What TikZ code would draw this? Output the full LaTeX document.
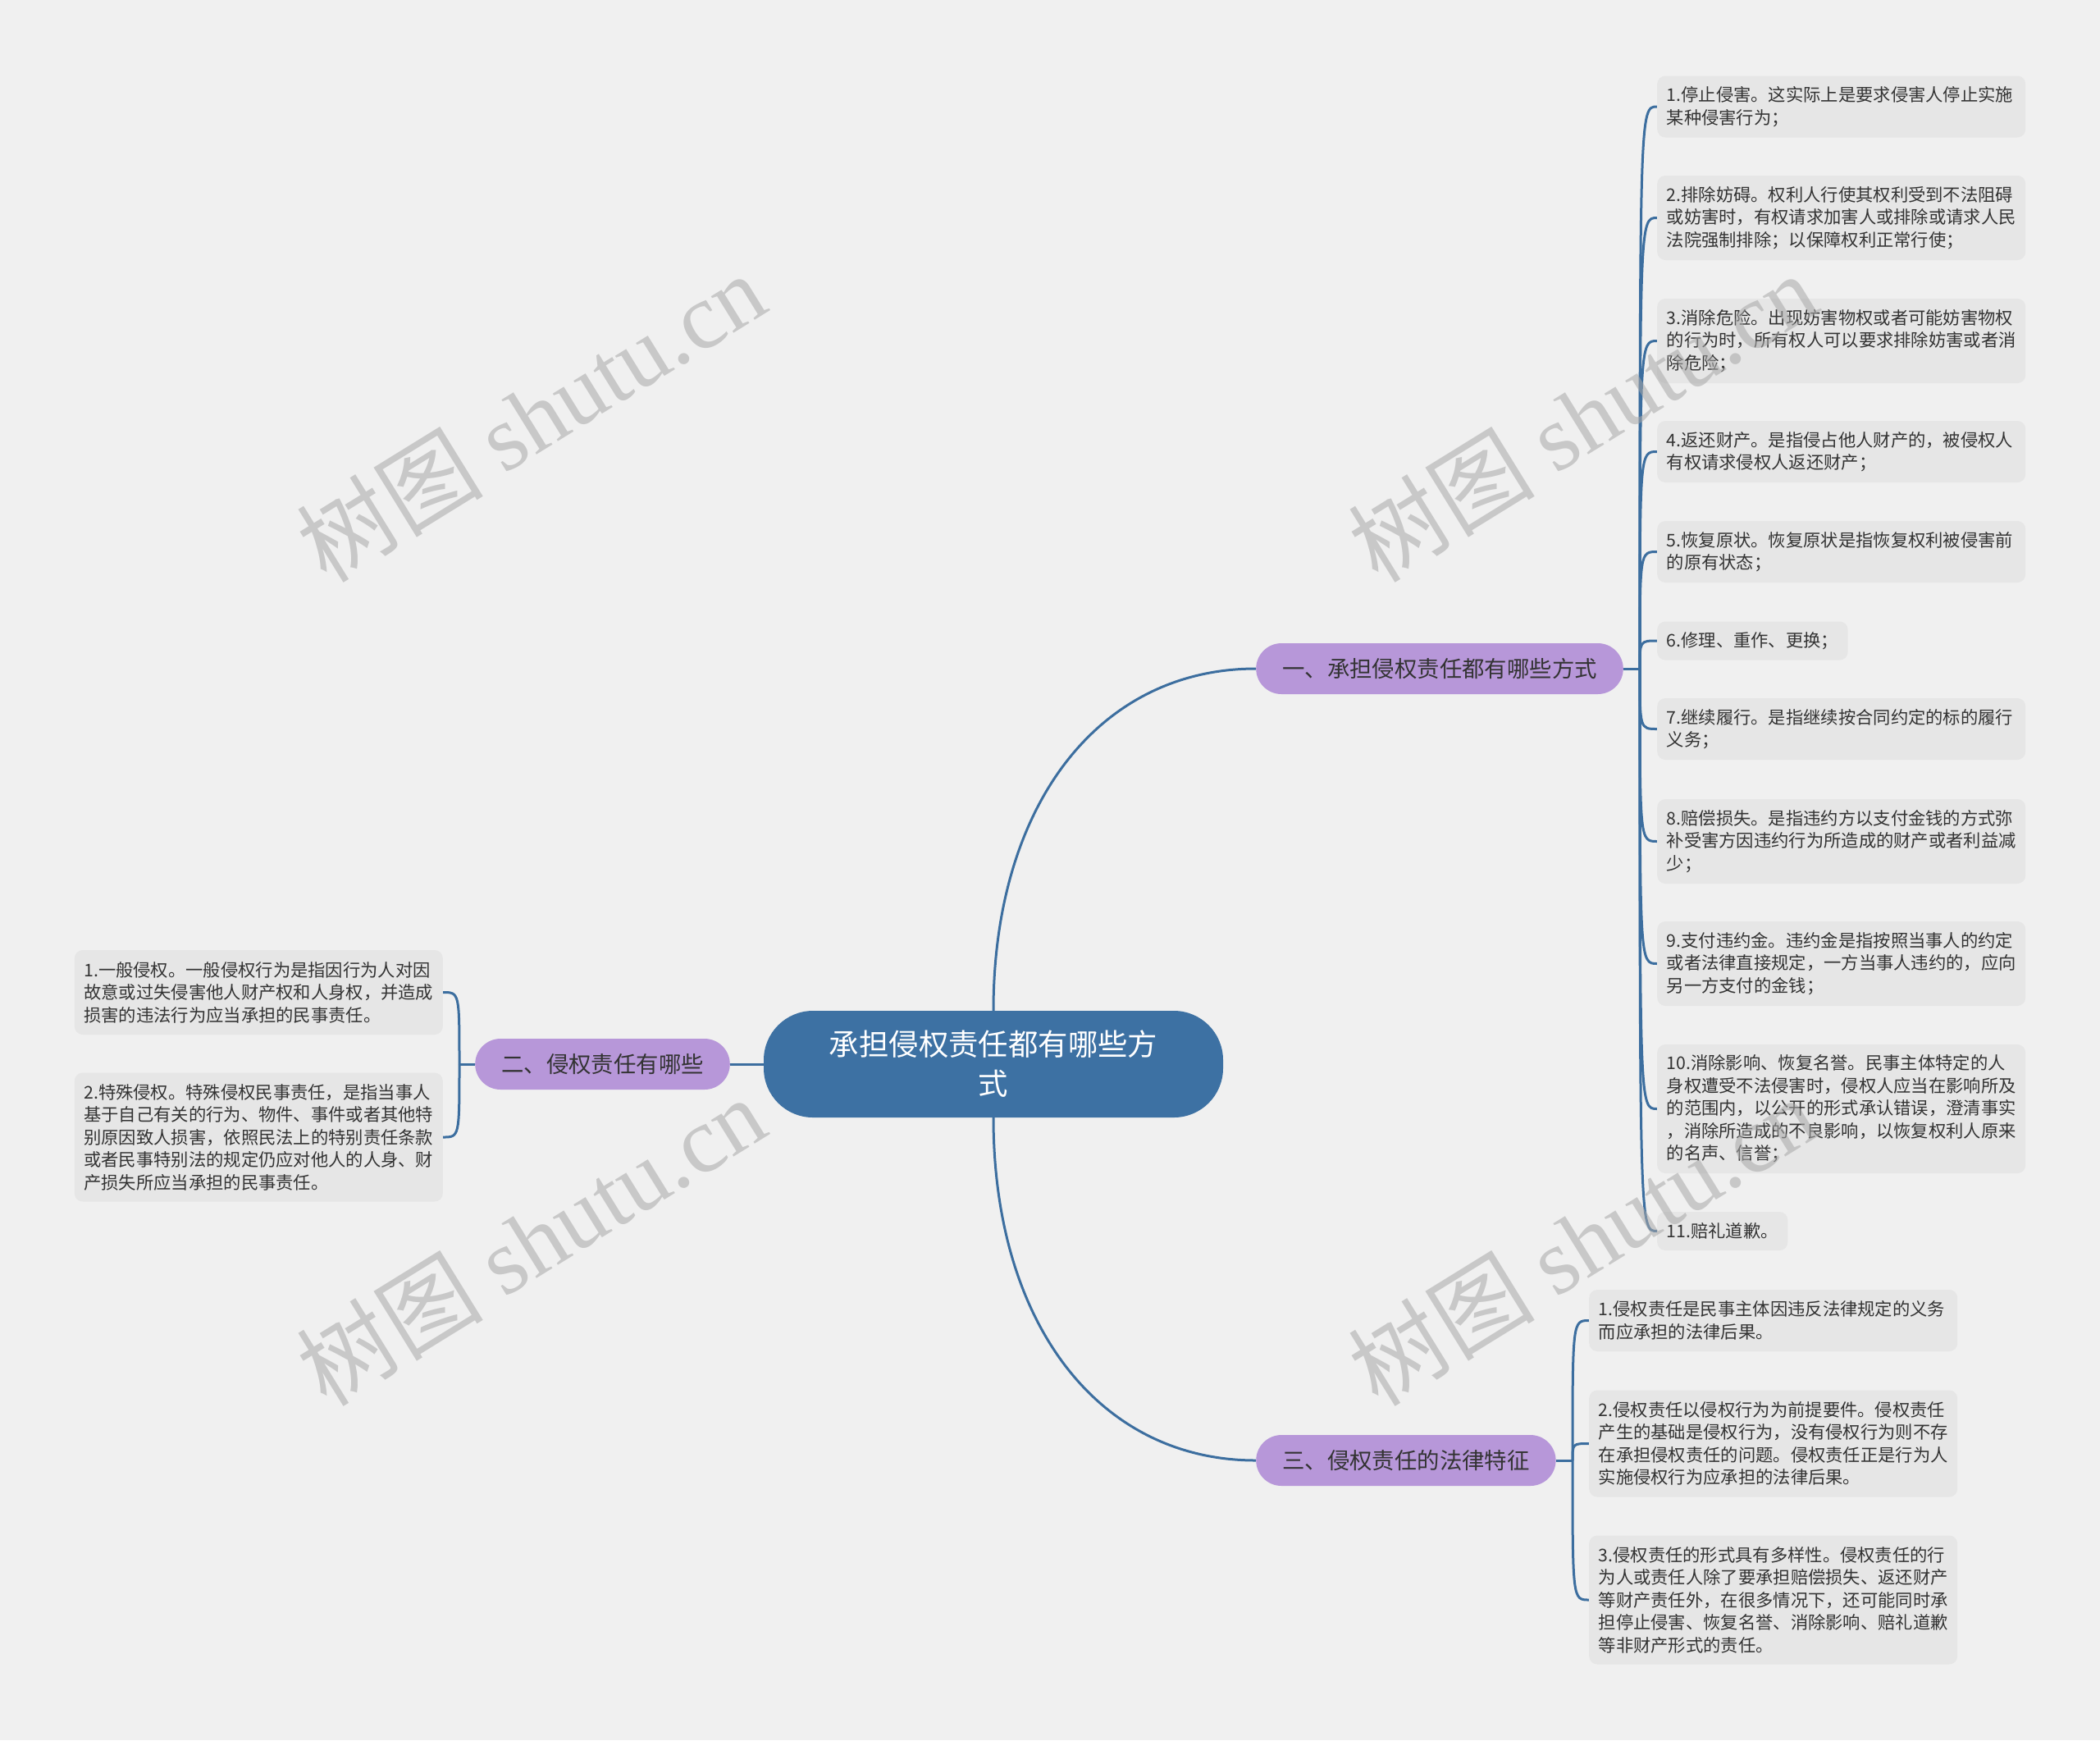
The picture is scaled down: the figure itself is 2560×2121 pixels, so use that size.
\documentclass[tikz,border=0pt]{standalone}
\usepackage{fontspec}
\setmainfont{Noto Sans CJK SC}
\newfontfamily\wmserif{Liberation Serif}
\usetikzlibrary{calc}
\definecolor{bgcol}{HTML}{F0F0F0}
\definecolor{leafcol}{HTML}{E6E6E6}
\definecolor{purp}{HTML}{B797D9}
\definecolor{centcol}{HTML}{3D71A3}
\definecolor{linecol}{HTML}{3C6E9F}
\definecolor{txtcol}{HTML}{333333}
\definecolor{wmcol}{HTML}{A8A8A8}
\pgfdeclarelayer{bg}
\pgfdeclarelayer{lines}
\pgfdeclarelayer{wm}
\pgfsetlayers{bg,lines,main,wm}
\tikzset{
  leaf/.style={fill=leafcol, rounded corners=10pt, inner xsep=11.5pt, inner ysep=0pt,
    align=left, text=txtcol, font=\fontsize{21.3}{27.5}\selectfont},
  wide/.style={text width=426pt},
  oneL/.style={minimum height=47pt},
  twoL/.style={minimum height=75pt},
  threeL/.style={minimum height=103pt},
  fourL/.style={minimum height=130pt},
  fiveL/.style={minimum height=157pt},
  branch/.style={fill=purp, rounded corners=31pt, minimum height=62pt, inner xsep=32pt,
    inner ysep=0pt, text=txtcol, font=\fontsize{27.4}{33}\selectfont},
  central/.style={fill=centcol, rounded corners=60pt, minimum width=560pt, minimum height=130pt,
    align=center, text=white, inner sep=0pt, font=\fontsize{36.4}{48}\selectfont},
  conn/.style={draw=linecol, line width=3pt},
  wmark/.style={text=wmcol, opacity=0.55, rotate=31.7, inner sep=0pt, font=\fontsize{114}{114}\selectfont}
}
\begin{document}
\begin{tikzpicture}[x=1pt,y=-1pt]
\begin{pgfonlayer}{bg}
\fill[bgcol] (0,0) rectangle (2560,2121);
\end{pgfonlayer}
\useasboundingbox (0,0) rectangle (2560,2121);

% central and branches
\node[central] (c) at (1211,1297) {承担侵权责任都有哪些方\\式};
\node[branch, anchor=west] (b1) at (1531,815) {一、承担侵权责任都有哪些方式};
\node[branch, anchor=east] (b2) at (890,1297) {二、侵权责任有哪些};
\node[branch, anchor=west] (b3) at (1531,1780) {三、侵权责任的法律特征};

% right leaves
\node[leaf, wide, twoL, anchor=west] (r1) at (2020,130) {1.停止侵害。这实际上是要求侵害人停止实施\\某种侵害行为；};
\node[leaf, wide, threeL, anchor=west] (r2) at (2020,265.5) {2.排除妨碍。权利人行使其权利受到不法阻碍\\或妨害时，有权请求加害人或排除或请求人民\\法院强制排除；以保障权利正常行使；};
\node[leaf, wide, threeL, anchor=west] (r3) at (2020,415.5) {3.消除危险。出现妨害物权或者可能妨害物权\\的行为时，所有权人可以要求排除妨害或者消\\除危险；};
\node[leaf, wide, twoL, anchor=west] (r4) at (2020,550.5) {4.返还财产。是指侵占他人财产的，被侵权人\\有权请求侵权人返还财产；};
\node[leaf, wide, twoL, anchor=west] (r5) at (2020,672.5) {5.恢复原状。恢复原状是指恢复权利被侵害前\\的原有状态；};
\node[leaf, oneL, anchor=west] (r6) at (2020,781) {6.修理、重作、更换；};
\node[leaf, wide, twoL, anchor=west] (r7) at (2020,888.5) {7.继续履行。是指继续按合同约定的标的履行\\义务；};
\node[leaf, wide, threeL, anchor=west] (r8) at (2020,1025.5) {8.赔偿损失。是指违约方以支付金钱的方式弥\\补受害方因违约行为所造成的财产或者利益减\\少；};
\node[leaf, wide, threeL, anchor=west] (r9) at (2020,1174.5) {9.支付违约金。违约金是指按照当事人的约定\\或者法律直接规定，一方当事人违约的，应向\\另一方支付的金钱；};
\node[leaf, wide, fiveL, anchor=west] (r10) at (2020,1351.5) {10.消除影响、恢复名誉。民事主体特定的人\\身权遭受不法侵害时，侵权人应当在影响所及\\的范围内，以公开的形式承认错误，澄清事实\\，消除所造成的不良影响，以恢复权利人原来\\的名声、信誉；};
\node[leaf, oneL, anchor=west] (r11) at (2020,1500.5) {11.赔礼道歉。};

% left leaves
\node[leaf, wide, threeL, anchor=east] (l1) at (540,1209.5) {1.一般侵权。一般侵权行为是指因行为人对因\\故意或过失侵害他人财产权和人身权，并造成\\损害的违法行为应当承担的民事责任。};
\node[leaf, wide, fiveL, anchor=east] (l2) at (540,1386) {2.特殊侵权。特殊侵权民事责任，是指当事人\\基于自己有关的行为、物件、事件或者其他特\\别原因致人损害，依照民法上的特别责任条款\\或者民事特别法的规定仍应对他人的人身、财\\产损失所应当承担的民事责任。};

% bottom leaves
\node[leaf, wide, twoL, anchor=west] (d1) at (1937,1609.5) {1.侵权责任是民事主体因违反法律规定的义务\\而应承担的法律后果。};
\node[leaf, wide, fourL, anchor=west] (d2) at (1937,1759.5) {2.侵权责任以侵权行为为前提要件。侵权责任\\产生的基础是侵权行为，没有侵权行为则不存\\在承担侵权责任的问题。侵权责任正是行为人\\实施侵权行为应承担的法律后果。};
\node[leaf, wide, fiveL, anchor=west] (d3) at (1937,1950) {3.侵权责任的形式具有多样性。侵权责任的行\\为人或责任人除了要承担赔偿损失、返还财产\\等财产责任外，在很多情况下，还可能同时承\\担停止侵害、恢复名誉、消除影响、赔礼道歉\\等非财产形式的责任。};

\coordinate (rs) at (1999,815);
\coordinate (ls) at (560,1297);
\coordinate (ds) at (1917,1780);
\coordinate (k1) at (c.north |- b1.west);
\coordinate (k3) at (c.south |- b3.west);

\begin{pgfonlayer}{lines}
\draw[conn] (c.north) .. controls ($(c.north)!0.6!(k1)$) and ($(b1.west)!0.6!(k1)$) .. (b1.west);
\draw[conn] (c.south) .. controls ($(c.south)!0.6!(k3)$) and ($(b3.west)!0.6!(k3)$) .. (b3.west);
\draw[conn] (c.west) -- (b2.east);
\draw[conn] (b1.east) -- (rs);
\foreach \n in {r1,r2,r3,r4,r5,r6,r7,r8,r9,r10,r11}
  \draw[conn] (rs) .. controls (rs |- \n.west) .. (\n.west);
\draw[conn] (b2.west) -- (ls);
\foreach \n in {l1,l2}
  \draw[conn] (ls) .. controls (ls |- \n.east) .. (\n.east);
\draw[conn] (b3.east) -- (ds);
\foreach \n in {d1,d2,d3}
  \draw[conn] (ds) .. controls (ds |- \n.west) .. (\n.west);
\end{pgfonlayer}

\begin{pgfonlayer}{wm}
\node[wmark] (w1) at (647,508) {树图 {\wmserif shutu.cn}};
\node[wmark] (w2) at (1929,508) {树图 {\wmserif shutu.cn}};
\node[wmark] (w3) at (647,1512) {树图 {\wmserif shutu.cn}};
\node[wmark] (w4) at (1929,1512) {树图 {\wmserif shutu.cn}};
\end{pgfonlayer}
\end{tikzpicture}
\end{document}
